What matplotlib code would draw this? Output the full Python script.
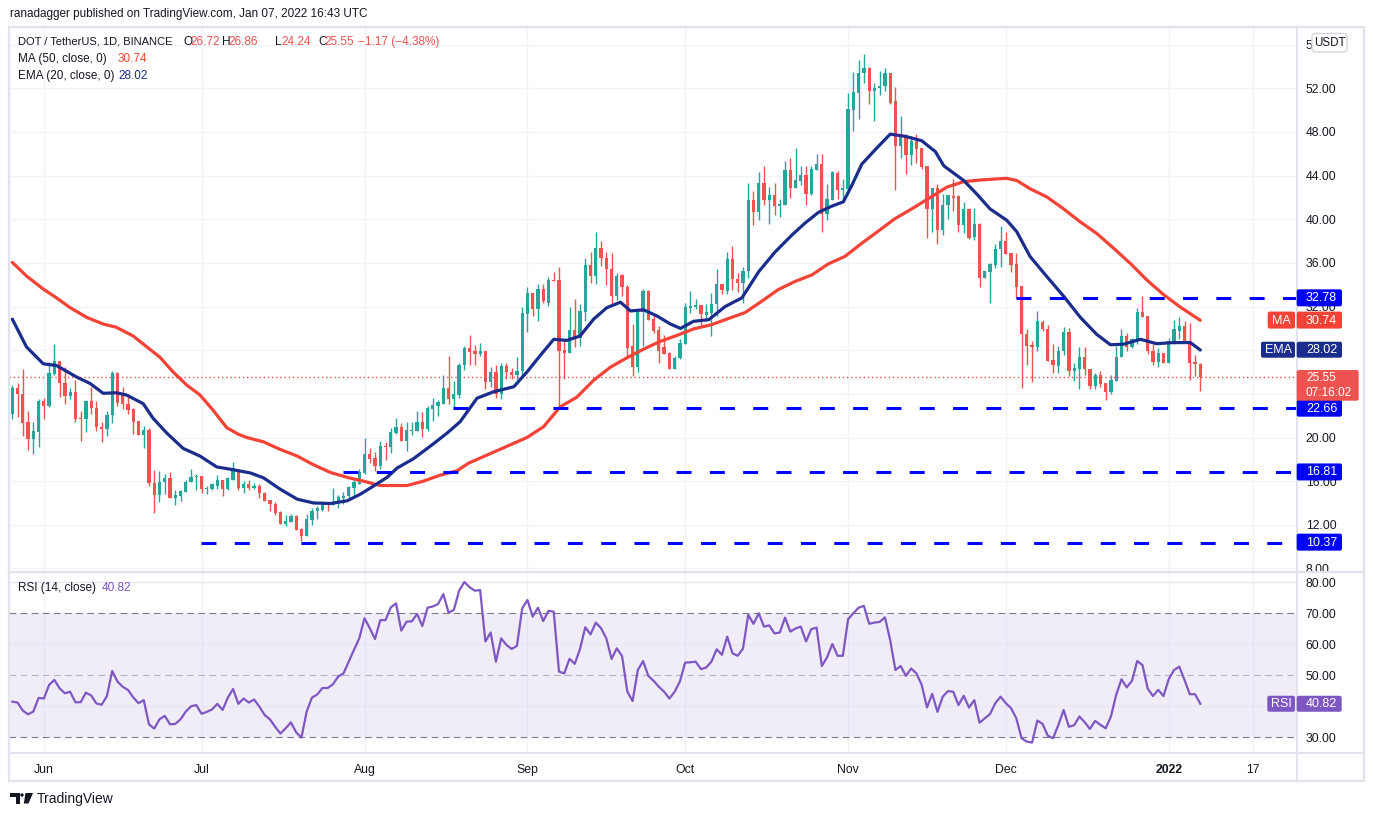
import numpy as np
import pandas as pd
import matplotlib
matplotlib.use("Agg")
import matplotlib.pyplot as plt
from matplotlib.patches import Rectangle, FancyBboxPatch, Polygon, Circle

plt.rcParams['font.family'] = ['Liberation Sans', 'DejaVu Sans']

W, H = 1374, 816
start = pd.Timestamp("2021-05-26")  # first daily candle

# ---- DOT/USDT daily candles ----
opens = [22.15, 24.55, 24.0, 21.4, 19.9, 20.55, 23.3, 22.9, 25.8, 27.0,
         25.0, 23.8, 24.2, 21.75, 21.7, 23.3, 22.7, 21.0, 20.8, 22.1,
         25.9, 24.0, 23.1, 22.6, 21.5, 20.2, 20.7, 15.85, 14.7, 15.9,
         16.3, 14.5, 14.6, 15.05, 15.9, 16.35, 16.45, 15.25, 15.3, 15.6,
         16.1, 15.25, 16.15, 16.95, 15.35, 15.75, 15.35, 15.6, 14.9, 14.3,
         13.95, 13.2, 12.06, 12.3, 12.8, 11.6, 11.0, 12.45, 13.25, 13.4,
         13.95, 13.8, 14.0, 14.45, 14.65, 15.35, 15.75, 16.75, 18.5, 18.1,
         17.35, 19.2, 19.1, 20.4, 21.0, 19.7, 20.6, 20.6, 21.4, 20.75,
         22.65, 22.9, 23.1, 24.5, 23.5, 23.9, 26.6, 28.2, 27.95, 27.65,
         27.95, 25.1, 26.0, 23.95, 26.55, 26.0, 25.7, 26.1, 31.3, 33.2,
         31.75, 33.6, 32.3, 34.45, 34.4, 28.0, 27.75, 29.85, 29.1, 31.5,
         35.85, 34.8, 37.4, 36.45, 35.45, 33.0, 34.85, 33.8, 28.4, 26.45,
         31.5, 33.45, 30.85, 29.85, 28.3, 27.75, 26.3, 27.25, 28.6, 31.9,
         32.0, 32.1, 31.25, 31.4, 32.25, 34.1, 33.45, 36.4, 34.55, 34.15,
         35.3, 41.8, 40.7, 43.35, 41.8, 42.25, 41.2, 41.35, 44.5, 42.9,
         43.55, 44.05, 42.35, 44.55, 45.05, 40.45, 41.8, 44.2, 42.7, 42.8,
         50.05, 51.6, 53.4, 53.85, 51.75, 52.0, 52.2, 53.4, 50.85, 46.75,
         47.6, 45.9, 47.2, 46.55, 44.9, 40.9, 42.85, 39.05, 41.3, 42.15,
         42.1, 39.5, 40.9, 38.35, 39.6, 34.6, 35.2, 35.8, 37.25, 38.05,
         36.9, 35.9, 33.85, 29.5, 28.5, 28.25, 30.6, 29.95, 27.1, 26.55,
         27.95, 29.7, 26.1, 26.25, 27.35, 26.3, 24.75, 25.7, 24.95, 24.15,
         25.2, 27.35, 29.3, 28.25, 28.95, 31.5, 31.1, 27.95, 26.9, 27.75,
         26.85, 28.7, 29.75, 30.2, 28.85, 26.9, 26.72]
highs = [24.85, 25.0, 26.3, 22.4, 21.4, 23.5, 23.6, 26.9, 28.6, 27.0,
         26.45, 24.55, 25.3, 22.4, 23.4, 24.6, 23.3, 21.45, 22.45, 26.1,
         26.0, 24.6, 24.0, 22.75, 21.5, 21.1, 20.85, 17.0, 16.95, 16.7,
         16.8, 15.15, 15.15, 16.1, 17.1, 16.7, 16.45, 15.6, 15.85, 16.6,
         16.1, 16.35, 17.75, 17.05, 16.0, 16.1, 15.85, 15.75, 15.0, 14.3,
         14.1, 13.3, 12.9, 13.0, 12.9, 11.75, 12.95, 13.5, 13.7, 14.2,
         13.95, 15.4, 14.7, 15.0, 15.55, 16.1, 17.1, 20.0, 19.0, 18.65,
         19.65, 19.6, 20.85, 21.8, 21.3, 21.4, 21.45, 22.45, 22.35, 22.9,
         23.6, 23.4, 25.75, 27.5, 25.2, 26.85, 28.4, 29.4, 28.5, 28.65,
         27.95, 26.5, 26.6, 26.85, 26.85, 26.35, 27.35, 31.95, 33.8, 33.2,
         34.1, 34.1, 34.7, 35.15, 35.6, 28.9, 32.0, 32.65, 32.2, 36.45,
         37.0, 38.8, 38.05, 37.0, 36.9, 35.05, 34.95, 33.95, 30.4, 31.6,
         33.65, 33.55, 31.4, 30.25, 29.4, 27.8, 27.45, 29.0, 32.35, 33.4,
         32.65, 32.1, 32.2, 33.2, 35.4, 34.1, 37.0, 37.55, 35.05, 35.6,
         43.35, 42.6, 44.3, 44.9, 42.95, 43.35, 41.9, 45.35, 45.6, 46.5,
         44.9, 44.9, 44.9, 46.0, 45.95, 43.25, 44.45, 44.4, 43.7, 51.6,
         53.5, 54.6, 55.15, 53.95, 52.5, 53.6, 53.85, 53.4, 52.1, 49.5,
         47.8, 47.6, 47.85, 46.55, 44.9, 42.85, 43.25, 42.35, 42.25, 43.7,
         42.25, 41.6, 41.05, 41.05, 39.7, 35.3, 35.95, 37.7, 39.4, 38.85,
         36.9, 36.95, 33.85, 29.9, 28.8, 31.6, 30.8, 30.35, 28.6, 28.35,
         30.15, 30.0, 26.8, 28.25, 28.3, 26.3, 25.95, 26.1, 25.0, 25.75,
         28.35, 29.95, 29.6, 29.15, 31.9, 32.95, 31.1, 28.55, 28.2, 27.75,
         29.15, 30.75, 31.05, 30.65, 30.5, 27.55, 26.86]
lows = [21.7, 21.9, 20.15, 18.9, 18.5, 19.15, 21.7, 22.8, 25.75, 23.7,
        23.05, 23.5, 21.45, 19.7, 20.55, 22.15, 20.6, 19.6, 20.1, 21.3,
        22.9, 22.6, 22.15, 20.3, 20.2, 19.0, 15.55, 13.1, 14.1, 14.85,
        14.5, 13.8, 14.2, 15.0, 15.9, 15.2, 14.95, 14.8, 15.15, 15.3,
        14.6, 15.15, 16.15, 15.15, 14.95, 15.15, 15.25, 14.5, 14.2, 13.3,
        12.9, 12.06, 11.85, 12.3, 11.55, 10.5, 10.95, 12.0, 12.55, 13.25,
        13.25, 13.8, 13.5, 13.95, 14.4, 14.55, 15.7, 16.7, 17.65, 16.95,
        17.15, 17.9, 18.6, 20.35, 19.65, 18.8, 20.25, 20.6, 20.05, 20.6,
        21.5, 21.95, 23.1, 23.1, 22.6, 23.6, 26.15, 26.6, 26.6, 27.45,
        24.4, 24.6, 23.6, 23.5, 25.4, 25.35, 25.4, 25.55, 29.7, 31.15,
        30.65, 32.3, 32.05, 34.3, 22.7, 25.35, 27.75, 28.3, 28.35, 30.7,
        34.2, 34.1, 35.7, 34.0, 32.2, 32.6, 32.95, 27.35, 25.6, 26.0,
        28.4, 30.8, 29.55, 26.85, 27.65, 26.25, 26.25, 27.15, 28.6, 31.45,
        31.75, 30.3, 30.65, 29.3, 31.1, 33.15, 33.15, 33.55, 33.3, 32.3,
        34.6, 39.45, 39.9, 41.35, 39.6, 40.35, 40.2, 41.35, 41.95, 42.9,
        43.1, 41.35, 42.2, 44.55, 38.85, 39.9, 41.75, 41.85, 41.6, 42.65,
        48.1, 49.15, 52.5, 50.6, 49.05, 51.35, 51.75, 50.6, 42.65, 45.65,
        44.15, 45.0, 45.15, 44.6, 38.25, 38.85, 37.7, 38.55, 40.0, 40.8,
        38.85, 38.7, 38.15, 38.1, 33.8, 34.6, 32.35, 35.5, 35.65, 36.8,
        35.15, 32.8, 24.55, 26.6, 25.05, 27.95, 29.75, 27.0, 25.9, 25.9,
        27.55, 25.65, 25.2, 24.45, 25.7, 24.45, 24.45, 24.6, 23.45, 24.0,
        25.2, 27.35, 27.95, 28.2, 28.55, 31.0, 27.65, 26.6, 26.45, 26.8,
        26.8, 28.55, 29.0, 28.8, 25.3, 25.65, 24.24]
closes = [24.55, 23.97, 21.33, 19.9, 20.6, 23.3, 22.9, 25.9, 27.0, 24.97,
          23.8, 24.2, 21.7, 21.7, 23.3, 22.7, 20.97, 20.8, 22.1, 25.9,
          23.2, 23.1, 22.5, 21.45, 20.2, 20.7, 15.8, 14.7, 15.9, 16.3,
          14.5, 14.7, 15.1, 15.9, 16.4, 16.45, 15.25, 15.4, 15.7, 16.1,
          15.25, 16.25, 16.95, 15.33, 15.75, 15.35, 15.55, 14.9, 14.2, 13.9,
          13.1, 12.06, 12.35, 12.8, 11.55, 11.0, 12.5, 13.3, 13.5, 13.95,
          13.8, 14.1, 14.55, 14.65, 15.45, 15.95, 16.8, 18.5, 18.05, 17.35,
          19.2, 19.1, 20.5, 21.0, 19.7, 20.7, 20.7, 21.4, 20.75, 22.7,
          22.95, 23.25, 24.5, 23.5, 23.95, 26.65, 28.2, 27.8, 27.65, 27.9,
          25.1, 26.0, 23.95, 26.55, 26.0, 25.7, 26.1, 31.4, 33.2, 31.75,
          33.6, 32.5, 34.4, 34.3, 27.95, 27.75, 29.85, 29.1, 31.6, 35.8,
          34.8, 37.4, 36.45, 35.4, 33.0, 34.8, 33.8, 28.2, 26.45, 31.6,
          33.4, 30.8, 29.8, 27.95, 27.65, 26.3, 27.3, 28.65, 31.95, 32.05,
          32.1, 31.3, 31.5, 32.25, 34.1, 33.5, 36.4, 34.55, 34.2, 35.3,
          41.8, 40.7, 43.35, 41.8, 42.25, 41.2, 41.4, 44.5, 42.9, 43.6,
          44.05, 42.35, 44.6, 45.05, 40.45, 41.9, 44.35, 42.7, 42.9, 50.1,
          51.65, 53.4, 53.85, 51.75, 52.05, 52.25, 53.4, 50.7, 46.75, 47.6,
          45.9, 47.2, 46.4, 44.75, 40.9, 42.85, 39.05, 41.35, 42.25, 41.95,
          39.5, 40.9, 38.3, 39.6, 34.6, 35.3, 35.9, 37.25, 38.05, 36.8,
          35.8, 33.8, 29.45, 28.4, 28.25, 30.65, 29.9, 27.0, 26.6, 27.95,
          29.7, 26.1, 26.35, 27.35, 26.3, 24.75, 25.7, 24.9, 24.15, 25.3,
          27.4, 29.3, 28.25, 29.0, 31.5, 31.0, 27.95, 26.9, 27.75, 26.85,
          28.85, 29.9, 30.2, 28.85, 26.8, 26.75, 25.55]

# RSI(14), one value per candle
rsi = [41.5, 41.2, 38.6, 37.4, 38.3, 42.7, 42.5, 46.9, 48.5, 45.8,
       44.2, 44.7, 41.3, 41.3, 44.4, 43.5, 40.9, 40.5, 43.3, 51.4,
       48.0, 46.3, 45.3, 42.9, 41.0, 42.0, 34.2, 32.8, 35.8, 36.9,
       34.2, 34.3, 35.8, 38.3, 40.0, 40.4, 37.6, 38.2, 39.0, 40.8,
       38.8, 42.8, 45.6, 40.8, 42.5, 41.2, 42.2, 39.9, 37.2, 35.8,
       33.4, 31.2, 32.9, 34.8, 31.6, 29.9, 38.3, 42.8, 43.8, 45.9,
       45.9, 47.1, 49.6, 50.6, 54.4, 58.2, 61.9, 68.4, 65.2, 61.7,
       67.8, 67.8, 71.9, 73.2, 64.4, 67.3, 67.4, 69.8, 65.9, 71.8,
       72.2, 73.0, 76.2, 70.2, 71.1, 77.3, 80.1, 78.4, 77.3, 77.5,
       60.9, 63.8, 54.4, 61.9, 59.8, 58.5, 59.5, 71.6, 74.3, 68.9,
       71.8, 67.5, 70.8, 70.5, 51.2, 50.6, 55.3, 53.7, 58.5, 65.5,
       63.2, 67.0,
       65.2, 61.9, 55.3, 58.7, 56.2, 44.7, 41.7, 51.7, 54.6, 49.8,
       48.2, 46.3, 44.7, 42.5, 44.7, 48.0, 54.1, 54.2, 54.4, 52.0,
       52.5, 54.4, 58.4, 56.6, 62.5, 57.1, 56.3, 58.6, 69.5, 66.6,
       70.0, 65.7, 66.1, 63.5, 63.8, 68.6, 64.1, 65.1, 65.7, 60.9,
       64.9, 65.4, 53.0, 55.8, 60.1, 56.3, 56.3, 68.1, 70.0, 71.8,
       72.4, 66.6, 67.0, 67.2, 68.7, 61.4, 51.7, 53.0, 49.8, 52.2,
       50.6, 46.9, 39.6, 44.0, 38.2, 43.1, 44.9, 44.7, 40.4, 43.4,
       39.6, 42.0, 34.7, 36.1, 37.5, 41.0, 43.1, 41.0, 39.4, 36.1,
       29.7, 28.6, 28.3, 35.4, 34.3, 30.5, 29.7, 34.0, 38.8, 33.4,
       33.9, 36.7, 34.9, 32.7, 35.3, 34.0, 32.9, 36.7, 43.7, 48.7,
       46.1, 48.2, 54.6, 53.3, 45.7, 43.3, 45.3, 43.3, 48.8, 51.7,
       52.8, 48.5, 43.9, 43.9, 40.82]

# EMA 20 and MA 50 read at candle positions (bar index)
ema_at = [0, 2.7, 5.9, 8.4, 12.2, 14.8, 17.3, 19.8, 21.7, 24.9,
          26.8, 29.4, 32.5, 35.7, 38.9, 42.0, 45.3, 47.8, 51.0, 54.2,
          57.3, 60.5, 63.7, 66.2, 68.7, 71.3, 73.2, 76.3, 79.5, 82.7,
          85.2, 88.4, 91.6, 95.4, 97.9, 100.4, 103.0, 105.5, 108.0, 110.6,
          113.1, 115.7, 117.6, 120.1, 122.6, 125.2, 127.1, 129.6, 132.5, 135.6,
          138.8, 142.0, 145.1, 148.3, 150.8, 153.4, 155.9, 158.1, 159.7, 161.6,
          164.2, 167.0, 169.9, 173.0, 175.6, 177.2, 181.0, 183.5, 186.0, 189.2,
          191.1, 193.6, 196.8, 200.0, 203.2, 206.3, 208.9, 211.4, 214.6, 217.7,
          220.9, 224.1, 226.0]
ema_val = [30.85, 28.3, 26.75, 26.6, 25.55, 24.95, 24.05, 24.1, 23.9, 23.1,
           21.75, 20.4, 19.0, 18.3, 17.3, 17.05, 16.75, 16.3, 15.25, 14.35,
           14.0, 13.95, 14.2, 14.8, 15.55, 16.35, 17.2, 18.05, 19.2, 20.4,
           21.45, 23.6, 24.2, 24.65, 26.0, 27.5, 29.0, 28.9, 29.3, 30.85,
           31.9, 32.4, 31.6, 31.7, 31.15, 30.4, 30.0, 30.65, 30.8, 32.0,
           32.8, 35.2, 37.0, 38.55, 39.65, 40.65, 41.2, 41.6, 43.1, 45.05,
           46.4, 47.8, 47.6, 47.2, 46.2, 44.9, 43.55, 42.3, 40.95, 39.9,
           38.85, 36.6, 34.75, 32.95, 31.0, 29.45, 28.5, 28.55, 29.0, 28.6,
           28.7, 28.7, 28.02]
ma_at = [0, 2.7, 5.9, 8.4, 11.0, 14.2, 17.3, 19.8, 23.0, 25.6,
         28.1, 30.6, 33.2, 35.7, 38.2, 40.8, 43.0, 44.6, 47.8, 51.0,
         54.2, 57.3, 60.5, 63.7, 66.8, 70.0, 73.2, 75.1, 78.2, 81.4,
         84.6, 86.8, 97.9, 101.1, 104.2, 107.4, 110.6, 113.8, 116.9, 120.1,
         123.2, 126.4, 129.6, 133.1, 136.2, 139.4, 142.6, 145.7, 148.9, 152.1,
         155.2, 158.4, 161.6, 164.7, 167.9, 171.1, 174.3, 177.8, 181.0, 184.2,
         187.3, 189.2, 191.1, 193.6, 196.8, 200.0, 203.2, 206.3, 209.5, 212.7,
         215.8, 219.0, 222.2, 226.0]
ma_val = [36.05, 34.8, 33.6, 32.8, 31.9, 31.0, 30.4, 30.1, 29.3, 28.3,
          27.35, 26.0, 24.8, 23.9, 22.5, 20.9, 20.3, 20.0, 19.6, 18.9,
          18.3, 17.5, 16.8, 16.35, 16.0, 15.6, 15.6, 15.6, 16.0, 16.55,
          16.95, 17.65, 20.0, 21.0, 22.8, 23.7, 25.25, 26.45, 27.3, 28.1,
          28.8, 29.35, 29.95, 30.35, 30.9, 31.45, 32.5, 33.55, 34.3, 34.9,
          35.9, 36.6, 37.8, 38.9, 40.05, 40.95, 41.9, 42.95, 43.45, 43.6,
          43.7, 43.75, 43.55, 42.8, 42.05, 40.95, 39.75, 38.7, 37.35, 35.95,
          34.45, 33.1, 31.95, 30.74]

# horizontal levels drawn by the author
levels = [32.78, 22.66, 16.81, 10.37]
level_from = ["2021-12-03", "2021-08-18", "2021-07-28", "2021-07-01"]

tick_dates = ["2021-06-01", "2021-07-01", "2021-08-01", "2021-09-01", "2021-10-01",
              "2021-11-01", "2021-12-01", "2022-01-01", "2022-01-17"]
tick_names = ["Jun", "Jul", "Aug", "Sep", "Oct", "Nov", "Dec", "2022", "17"]

price_ticks = list(range(8, 57, 4))
hidden_price_ticks = [24, 28]      # covered by the price / EMA tags
rsi_ticks = [30, 40, 50, 60, 70, 80]

UP, DOWN = '#26a69a', '#ef5350'
MA_C, EMA_C, RSI_C = '#f44336', '#1b2d8c', '#7e57c2'
GRID, FRAME, TXT = '#f0f3fa', '#e0e3eb', '#131722'
FS = 8.5


def day_index(d):
    return (pd.Timestamp(d) - start).days


def box(l, t, r, b):
    return [l / W, 1 - b / H, (r - l) / W, (b - t) / H]


fig = plt.figure(figsize=(W / 100, H / 100), dpi=100)
ax = fig.add_axes(box(9, 28, 1296.7, 571.5))
rx = fig.add_axes(box(9, 573, 1296.7, 752.7))
ov = fig.add_axes([0, 0, 1, 1])
ov.set_xlim(0, W)
ov.set_ylim(H, 0)
ov.axis('off')
ov.set_zorder(5)

o, h, l, c = map(np.array, (opens, highs, lows, closes))
x = np.arange(len(c))
col = np.where(c >= o, UP, DOWN)
xmin, xmax = -0.63, 244.34
tick_idx = [day_index(d) for d in tick_dates]

# ---- price pane ----
for a in (ax, rx):
    for s in a.spines.values():
        s.set_visible(False)
    a.set_xlim(xmin, xmax)
    for t in tick_idx:
        a.axvline(t, color=GRID, lw=1, zorder=0)
    a.yaxis.tick_right()
    a.tick_params(length=0, labelsize=8.8, labelcolor=TXT, pad=6.5)

ax.set_ylim(7.72, 57.53)
for v in price_ticks:
    ax.axhline(v, color=GRID, lw=1, zorder=0)
ax.set_yticks(price_ticks)
ax.set_yticklabels(["" if v in hidden_price_ticks else f"{v:.2f}" for v in price_ticks])
ax.set_xticks([])

ax.vlines(x, l, h, colors=col, lw=1, zorder=3)
ax.bar(x, np.maximum(np.abs(c - o), 0.08), bottom=np.minimum(o, c), width=0.62,
       color=col, lw=0, zorder=4)
ax.axhline(c[-1], color=DOWN, lw=1, dashes=(1, 2), zorder=2)
ax.plot(ma_at, ma_val, color=MA_C, lw=2.3, zorder=5, solid_capstyle='round')
ax.plot(ema_at, ema_val, color=EMA_C, lw=2.3, zorder=5, solid_capstyle='round')
for lv, d0 in zip(levels, level_from):
    ax.plot([day_index(d0) - 0.1, xmax], [lv, lv], color='#0000ff', lw=2.2,
            dashes=(4.9, 6.0), zorder=6)

# ---- RSI pane ----
rx.set_ylim(25.03, 83.0)
rx.axhspan(30, 70, color=RSI_C, alpha=0.1, lw=0, zorder=0)
for v in (40, 60, 80):
    rx.axhline(v, color='#e9e6f2', lw=1, zorder=1)
rx.axhline(70, color='#787b86', lw=0.8, ls=(0, (6, 4)), zorder=1)
rx.axhline(30, color='#787b86', lw=0.8, ls=(0, (6, 4)), zorder=1)
rx.axhline(50, color='#b2b5be', lw=0.8, ls=(0, (6, 4)), zorder=1)
rx.plot(x, rsi, color=RSI_C, lw=1.6, zorder=3)
rx.set_yticks(rsi_ticks)
rx.set_yticklabels(["" if v == 40 else f"{v:.2f}" for v in rsi_ticks])
rx.set_xticks(tick_idx)
rx.set_xticklabels(tick_names)
rx.tick_params(axis='x', pad=8)
rx.get_xticklabels()[7].set_fontweight('bold')

# ---- frame ----
ov.add_patch(Rectangle((9, 27.3), 1355, 753.4, fill=False, ec=FRAME, lw=1.6))
ov.plot([1296.7, 1296.7], [27.3, 780.7], color=FRAME, lw=1.4)
ov.plot([9, 1364], [572.3, 572.3], color=FRAME, lw=1.6)
ov.plot([9, 1364], [752.7, 752.7], color=FRAME, lw=1.4)


def tag(x0, x1, yc, hgt, color, text, ha='left', tx=1306, fs=9):
    ov.add_patch(FancyBboxPatch((x0, yc - hgt / 2), x1 - x0, hgt,
                                boxstyle='round,pad=0,rounding_size=2',
                                fc=color, ec='none', zorder=10))
    xx = tx if ha == 'left' else (x0 + x1) / 2
    ov.text(xx, yc + 0.5, text, color='white', fontsize=fs, ha=ha, va='center', zorder=11)


def price_y(p):
    return 88.3 + (52 - p) * 10.902


for lv in levels:
    tag(1296.7, 1342, price_y(lv), 17, '#0000ff', f"{lv:.2f}")
tag(1267.7, 1295, price_y(ma_val[-1]), 17, MA_C, "MA", ha='center')
tag(1296.7, 1342, price_y(ma_val[-1]), 17, MA_C, f"{ma_val[-1]:.2f}")
tag(1261, 1295, price_y(ema_val[-1]), 16, EMA_C, "EMA", ha='center')
tag(1296.7, 1342, price_y(ema_val[-1]), 16, EMA_C, f"{ema_val[-1]:.2f}")
ov.add_patch(FancyBboxPatch((1296.7, 370), 62, 30.7, boxstyle='round,pad=0,rounding_size=2',
                            fc=DOWN, ec='none', zorder=10))
ov.text(1306, 378, f"{closes[-1]:.2f}", color='white', fontsize=8.6, va='center', zorder=11)
ov.text(1306, 393.5, "07:16:02", color='white', fontsize=8.6, va='center', zorder=11)
rsi_y = 613.3 + (70 - rsi[-1]) * 3.1
tag(1267.3, 1295, rsi_y, 16, RSI_C, "RSI", ha='center')
tag(1296.7, 1341.7, rsi_y, 16, RSI_C, f"{rsi[-1]:.2f}")

ov.add_patch(FancyBboxPatch((1312, 33.5), 35, 18.5, boxstyle='round,pad=0,rounding_size=3',
                            fc='white', ec='#d1d4dc', lw=1, zorder=10))
ov.text(1329.5, 43, "USDT", color=TXT, fontsize=8.4, ha='center', va='center', zorder=11)

# ---- header / legend texts ----
ov.text(10, 14, "ranadagger published on TradingView.com, Jan 07, 2022 16:43 UTC",
        color=TXT, fontsize=FS, va='center')
ov.text(18, 42, "DOT / TetherUS, 1D, BINANCE", color=TXT, fontsize=8.0, va='center')
ohlc_parts = [(184, "O", TXT), (190.5, f"{opens[-1]:.2f}", DOWN),
              (222, "H", TXT), (228, f"{highs[-1]:.2f}", DOWN),
              (275, "L", TXT), (281, f"{lows[-1]:.2f}", DOWN),
              (318, "C", TXT), (324.5, f"{closes[-1]:.2f}", DOWN),
              (358, "\u22121.17 (\u22124.38%)", DOWN)]
for px, s, cc in ohlc_parts:
    ov.text(px, 42, s, color=cc, fontsize=FS, va='center')
ov.text(18, 59, "MA (50, close, 0)", color=TXT, fontsize=FS, va='center')
ov.text(118, 59, f"{ma_val[-1]:.2f}", color=MA_C, fontsize=FS, va='center')
ov.text(18, 76, "EMA (20, close, 0)", color=TXT, fontsize=FS, va='center')
ov.text(118, 76, f"{ema_val[-1]:.2f}", color=EMA_C, fontsize=FS, va='center')
ov.text(18, 588, "RSI (14, close)", color=TXT, fontsize=FS, va='center')
ov.text(102, 588, f"{rsi[-1]:.2f}", color=RSI_C, fontsize=FS, va='center')

# ---- footer logo ----
ov.add_patch(Polygon([(10, 793), (19.5, 793), (19.5, 803.5), (15.5, 803.5), (15.5, 796.5), (10, 796.5)],
                     closed=True, fc=TXT, ec='none'))
ov.add_patch(Circle((22, 795), 1.7, fc=TXT, ec='none'))
ov.add_patch(Polygon([(25.5, 793), (33, 793), (28.5, 803.5), (23.8, 803.5)], closed=True, fc=TXT, ec='none'))
ov.text(37, 798.5, "TradingView", color=TXT, fontsize=10, va='center')

fig.savefig("out.png", dpi=100)
